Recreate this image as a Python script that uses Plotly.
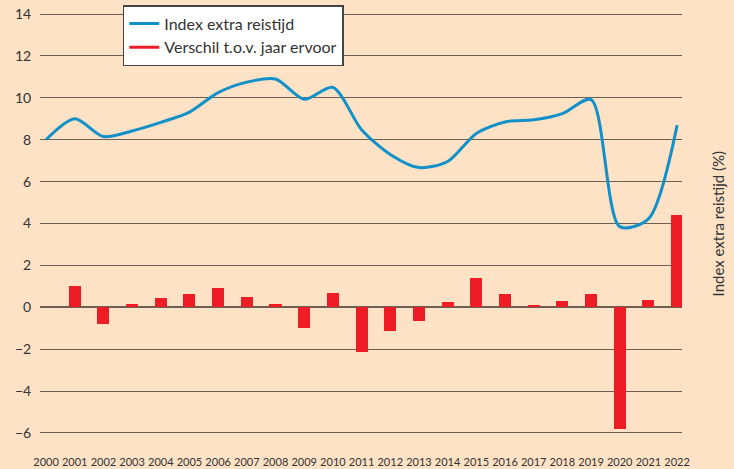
import plotly.graph_objects as go

years = list(range(2000, 2023))
index_extra = [8.0, 9.0, 8.15, 8.42, 8.83, 9.32, 10.25, 10.75, 10.9, 9.93, 10.5,
               8.48, 7.3, 6.67, 6.96, 8.3, 8.85, 8.95, 9.25, 9.92, 3.85, 4.22, 8.7]
bar_years = list(range(2001, 2023))
verschil = [1.0, -0.82, 0.17, 0.46, 0.61, 0.9, 0.51, 0.17, -0.97, 0.66, -2.15,
            -1.12, -0.64, 0.27, 1.38, 0.61, 0.13, 0.32, 0.61, -5.82, 0.37, 4.43]
y_ticks = [-6, -4, -2, 0, 2, 4, 6, 8, 10, 12, 14]
x_tick_labels = [str(y) for y in years]

FONT = "Lato, 'Open Sans', sans-serif"
TXT = "#333333"
BG = "#FDE2C6"
GRID = "#6E5F55"
BLUE = "#1190CA"
RED = "#EE1C25"

fig = go.Figure()
fig.add_trace(go.Scatter(
    x=years, y=index_extra, mode="lines", name="Index extra reistijd",
    line=dict(color=BLUE, width=3, shape="spline", smoothing=0.8),
))
fig.add_trace(go.Bar(
    x=bar_years, y=verschil, name="Verschil t.o.v. jaar ervoor",
    marker=dict(color=RED, line=dict(width=0)), width=0.42, showlegend=False,
))
# legend proxy (line symbol) for the bar series
fig.add_trace(go.Scatter(
    x=[None], y=[None], mode="lines", name="Verschil t.o.v. jaar ervoor",
    line=dict(color=RED, width=3),
))

fig.update_layout(
    width=734, height=469,
    margin=dict(l=40, r=52, t=12, b=34, autoexpand=False),
    paper_bgcolor=BG, plot_bgcolor=BG,
    font=dict(family=FONT, color=TXT, size=13),
    showlegend=True,
    legend=dict(
        x=0.129, y=1.0165, xanchor="left", yanchor="top",
        bgcolor="white", bordercolor="#444444", borderwidth=1.5,
        font=dict(size=16, color=TXT), tracegroupgap=0,
    ),
    bargap=0,
    xaxis=dict(
        range=[1999.79, 2022.17], tickmode="array", tickvals=years,
        ticktext=x_tick_labels, showgrid=False, zeroline=False,
        showline=False, ticks="outside", ticklen=0, ticklabelstandoff=17,
        tickangle=0, automargin=False,
        tickfont=dict(size=11, color=TXT), fixedrange=True,
    ),
    yaxis=dict(
        range=[-6.1, 14.1], tickmode="array", tickvals=y_ticks,
        showgrid=True, gridcolor=GRID, gridwidth=1.3,
        zeroline=True, zerolinecolor=GRID, zerolinewidth=1.5,
        showline=False, ticks="outside", ticklen=0, ticklabelstandoff=5,
        automargin=False,
        tickfont=dict(size=14, color=TXT), fixedrange=True,
    ),
    annotations=[dict(
        text="Index extra reistijd (%)", xref="paper", yref="paper",
        x=1.056, y=0.5, xanchor="center", yanchor="middle", textangle=-90,
        showarrow=False, font=dict(size=15, color=TXT),
    )],
)

fig.write_html("out.html", config={"displayModeBar": False},
               post_script="document.body.style.margin='0';")
